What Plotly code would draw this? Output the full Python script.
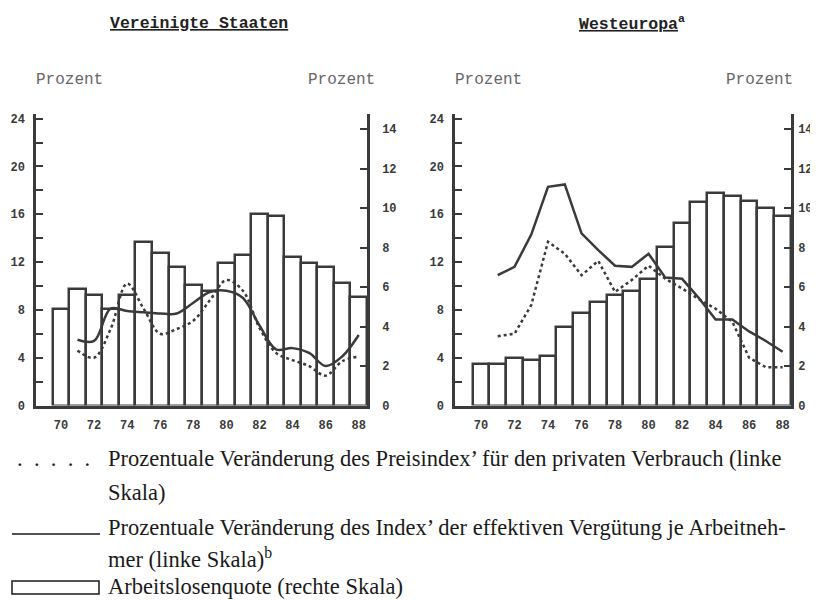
import plotly.graph_objects as go

# Jahre (Balken) und Jahre der Linien (ab 1971)
YEARS = list(range(1970, 1989))
LINE_YEARS = list(range(1971, 1989))
TICK_YEARS = list(range(1970, 1989, 2))
TICK_TEXT = [str(y)[2:] for y in TICK_YEARS]

# Vereinigte Staaten
us_unemployment = [4.9, 5.9, 5.6, 4.9, 5.6, 8.3, 7.7, 7.0, 6.1, 5.8,
                   7.2, 7.6, 9.7, 9.6, 7.5, 7.2, 7.0, 6.2, 5.5]
us_wages = [5.5, 5.4, 8.1, 7.9, 7.8, 7.7, 7.7, 8.6, 9.5, 9.6,
            9.0, 6.7, 4.7, 4.8, 4.4, 3.3, 4.1, 5.9]
us_prices = [4.6, 4.0, 6.4, 10.2, 8.1, 6.0, 6.4, 7.1, 8.8, 10.5,
             9.6, 6.5, 4.4, 3.8, 3.3, 2.5, 3.7, 4.1]

# Westeuropa
we_unemployment = [2.1, 2.1, 2.4, 2.3, 2.5, 4.0, 4.7, 5.25, 5.6, 5.8,
                   6.4, 8.05, 9.25, 10.3, 10.75, 10.6, 10.35, 10.0, 9.6]
we_wages = [10.9, 11.6, 14.3, 18.3, 18.5, 14.4, 13.0, 11.7, 11.6, 12.7,
            10.7, 10.6, 9.0, 7.2, 7.2, 6.2, 5.4, 4.5]
we_prices = [5.8, 6.0, 8.4, 13.7, 12.7, 10.9, 12.1, 9.5, 10.5, 11.7,
             10.6, 9.8, 8.9, 8.1, 7.0, 4.0, 3.2, 3.2]

INK = '#3a3a3a'
MONO = 'Liberation Mono, DejaVu Sans Mono, monospace'
SERIF = 'Liberation Serif, Times New Roman, serif'

W, H = 818, 600
PAGE = 8  # Rand des <body> im Browser


def px(x):
    return (x - PAGE) / W


def py(y):
    return (H - (y - PAGE)) / H


Y_DOMAIN = [py(405.5), py(114)]
LEFT_RANGE = [0, 24.39]
RIGHT_RANGE = [0, 14.76]


def add_panel(fig, xa, ya_bar, ya_line, unemp, wages, prices, shape):
    """Balken (rechte Skala) zuerst, Linien (linke Skala) darüber."""
    fig.add_trace(go.Bar(
        x=YEARS, y=unemp, xaxis=xa, yaxis=ya_bar, width=1,
        marker=dict(color='white', line=dict(color=INK, width=2.5)),
        showlegend=False
    ))
    fig.add_trace(go.Scatter(
        x=LINE_YEARS, y=prices, xaxis=xa, yaxis=ya_line, mode='lines',
        line=dict(color=INK, width=2.5, dash='dot', shape=shape),
        showlegend=False
    ))
    fig.add_trace(go.Scatter(
        x=LINE_YEARS, y=wages, xaxis=xa, yaxis=ya_line, mode='lines',
        line=dict(color=INK, width=2.5, shape=shape),
        showlegend=False
    ))


def x_axis(px0, px1, x_lo, anchor):
    return dict(
        domain=[px(px0), px(px1)], range=[x_lo, 1988.5], anchor=anchor,
        showline=True, linecolor=INK, linewidth=2.5, showgrid=False, zeroline=False,
        tickmode='array', tickvals=TICK_YEARS, ticktext=TICK_TEXT, ticks='',
        ticklabelstandoff=6,
        tickfont=dict(family=MONO, size=12, color=INK, weight='bold'),
        automargin=False
    )


def right_axis(anchor, standoff):
    return dict(
        domain=Y_DOMAIN, range=RIGHT_RANGE, anchor=anchor, side='right',
        showline=True, linecolor=INK, linewidth=2.5, showgrid=False, zeroline=False,
        tickmode='linear', tick0=0, dtick=2, ticks='inside', ticklen=7,
        tickwidth=2, tickcolor=INK, ticklabelstandoff=standoff,
        tickfont=dict(family=MONO, size=12, color=INK, weight='bold'),
        automargin=False
    )


def left_axis(anchor, overlay, standoff):
    return dict(
        range=LEFT_RANGE, anchor=anchor, overlaying=overlay, side='left',
        showline=True, linecolor=INK, linewidth=2.5, showgrid=False, zeroline=False,
        tickmode='linear', tick0=0, dtick=4, ticks='inside', ticklen=7,
        tickwidth=2, tickcolor=INK, ticklabelstandoff=standoff,
        minor=dict(dtick=2, ticks='inside', ticklen=7, tickwidth=2, tickcolor=INK),
        tickfont=dict(family=MONO, size=12, color=INK, weight='bold'),
        automargin=False
    )


fig = go.Figure()
add_panel(fig, 'x', 'y', 'y2', us_unemployment, us_wages, us_prices, 'spline')
add_panel(fig, 'x2', 'y3', 'y4', we_unemployment, we_wages, we_prices, 'linear')

fig.update_layout(
    template='none',
    width=W, height=H,
    margin=dict(l=0, r=0, t=0, b=0),
    paper_bgcolor='white', plot_bgcolor='rgba(0,0,0,0)',
    bargap=0,
    xaxis=x_axis(36, 367, 1968.49, 'y'),
    yaxis=right_axis('x', 10),
    yaxis2=left_axis('x', 'y', 6),
    xaxis2=x_axis(455, 791, 1968.45, 'y3'),
    yaxis3=right_axis('x2', 2),
    yaxis4=left_axis('x2', 'y3', 6),
)

annotations = []


def text(x, y, s, font, size, color, anchor='center'):
    annotations.append(dict(
        x=px(x), y=py(y), xref='paper', yref='paper', text=s,
        showarrow=False, xanchor=anchor, yanchor='middle',
        font=dict(family=font, size=size, color=color)
    ))


# Überschriften
text(199, 23, '<b><u>Vereinigte Staaten</u></b>', MONO, 16.5, '#222')
text(632, 23, '<b><u>Westeuropa</u></b><b><sup>a</sup></b>', MONO, 16.5, '#222')

# Achsenbeschriftungen "Prozent"
for cx in [69, 341, 489, 759]:
    text(cx, 80, 'Prozent', MONO, 16, '#666')

# Legende
legend_lines = [
    (458, 'Prozentuale Veränderung des Preisindex’ für den privaten Verbrauch (linke'),
    (492, 'Skala)'),
    (527, 'Prozentuale Veränderung des Index’ der effektiven Vergütung je Arbeitneh-'),
    (558, 'mer (linke Skala)<sup>b</sup>'),
    (586, 'Arbeitslosenquote (rechte Skala)'),
]
for y, s in legend_lines:
    text(106, y, s, SERIF, 22.5, '#1a1a1a', anchor='left')

text(92, 458, '.\u00a0\u00a0.\u00a0\u00a0.\u00a0\u00a0.\u00a0\u00a0.',
     SERIF, 22.5, '#1a1a1a', anchor='right')

fig.update_layout(annotations=annotations)

fig.add_shape(type='line', xref='paper', yref='paper',
              x0=px(12), x1=px(100), y0=py(534), y1=py(534),
              line=dict(color='#1a1a1a', width=1.5))
fig.add_shape(type='rect', xref='paper', yref='paper',
              x0=px(12), x1=px(99), y0=py(594), y1=py(581),
              line=dict(color='#1a1a1a', width=1.5), fillcolor='white')

fig.write_html("out.html")
